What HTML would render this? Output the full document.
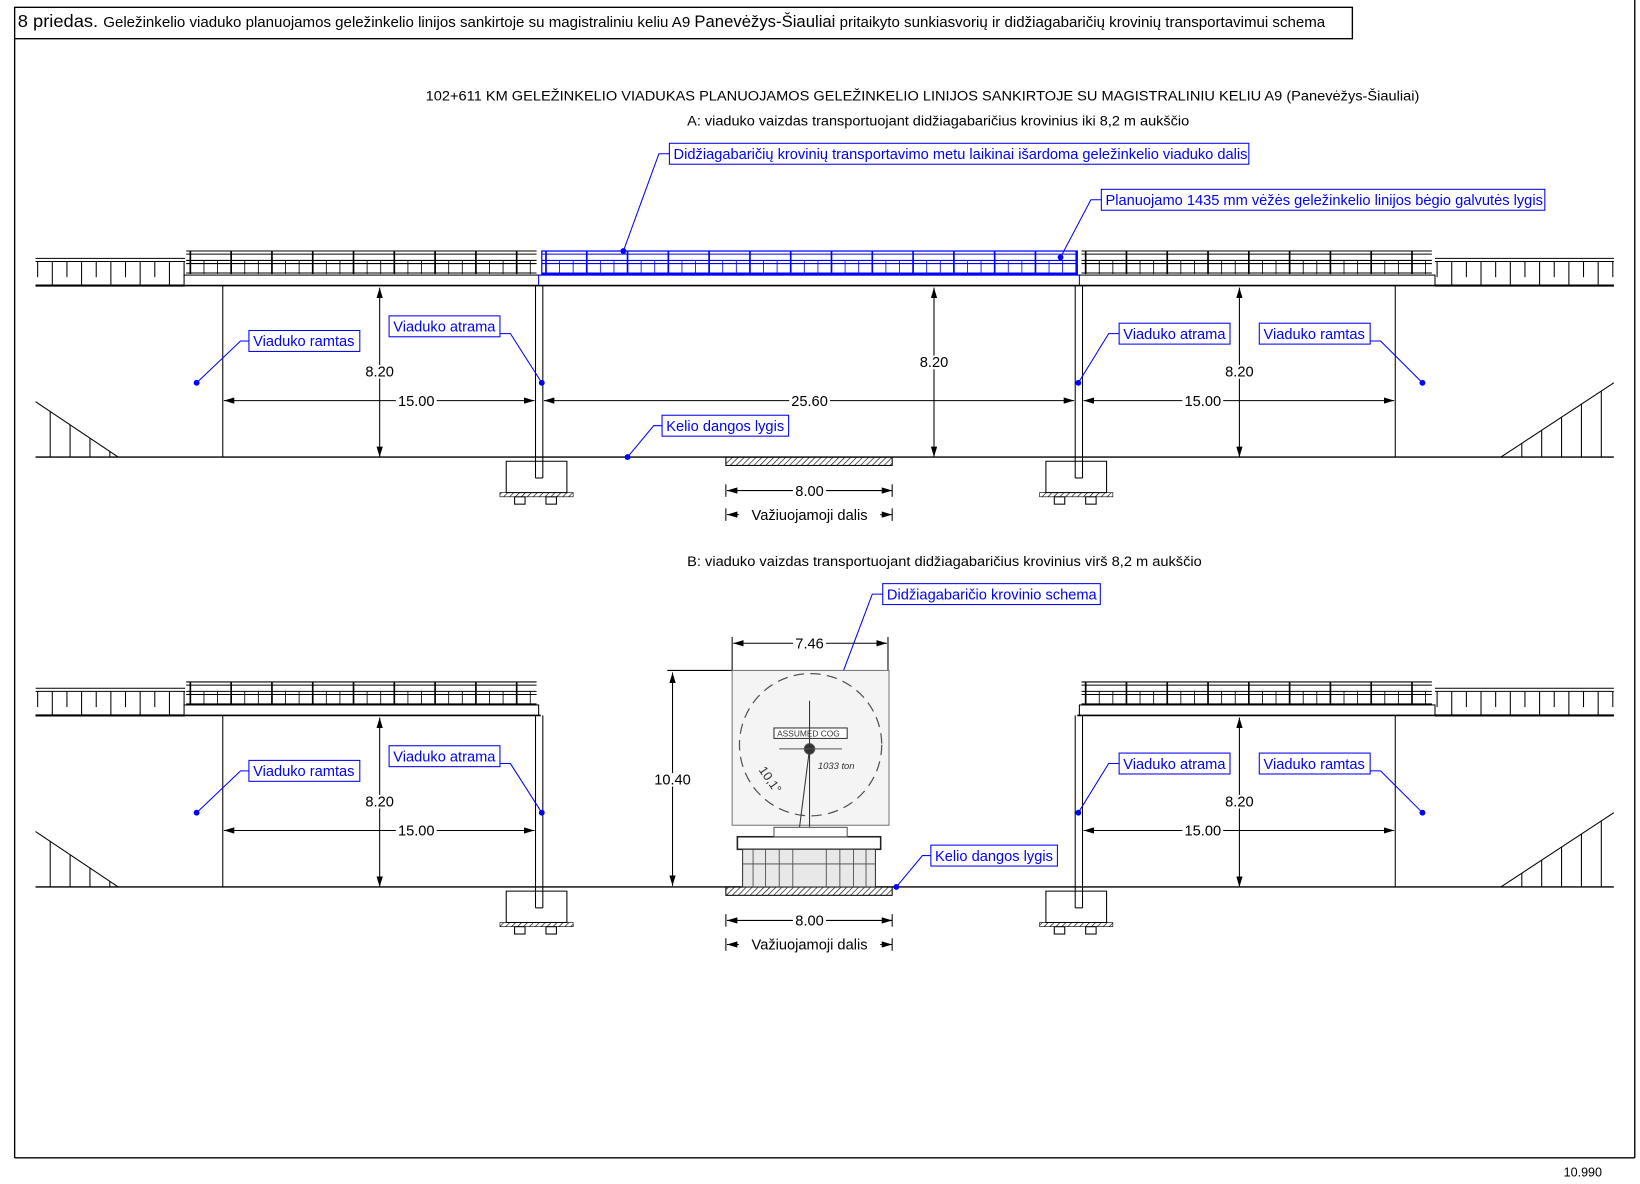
<!DOCTYPE html>
<html><head><meta charset="utf-8"><style>
html,body{margin:0;padding:0;background:#fff;}
svg{display:block;font-family:"Liberation Sans",sans-serif;}
.bl{fill:#00f;font-size:14px;}
.bx{fill:#fff;stroke:#00f;stroke-width:1;}
.ld{stroke:#00f;stroke-width:1;fill:none;}
.k{stroke:#000;fill:none;}
.t{font-size:13px;fill:#000;}
</style></head><body>
<svg id="s" width="1640" height="1184" viewBox="0 0 1568 1132" preserveAspectRatio="none" xmlns="http://www.w3.org/2000/svg">
<defs>
<pattern id="h" width="4" height="4" patternUnits="userSpaceOnUse" patternTransform="rotate(45)"><line x1="0" y1="0" x2="0" y2="4" stroke="#000" stroke-width="1.2"/></pattern>
<marker id="a" viewBox="0 0 10 6" refX="10" refY="3" markerWidth="10" markerHeight="6" orient="auto-start-reverse" markerUnits="userSpaceOnUse"><path d="M0,0L10,3L0,6z" fill="#000"/></marker>
</defs>
<rect x="0" y="0" width="1568" height="1132" fill="#fff"/>
<rect x="14" y="7" width="1279" height="30" fill="#fff" stroke="#000" stroke-width="1.3"/>
<line x1="14" y1="37" x2="14" y2="1107" stroke="#000" stroke-width="1.3"/>
<line x1="14" y1="1107" x2="1563" y2="1107" stroke="#000" stroke-width="1.3"/>
<line x1="1563" y1="0" x2="1563" y2="1107" stroke="#000" stroke-width="1.3"/>
<text x="17" y="26" font-size="17" fill="#000" textLength="1250" lengthAdjust="spacingAndGlyphs">8 priedas. <tspan font-size="14">Geležinkelio viaduko planuojamos geležinkelio linijos sankirtoje su magistraliniu keliu A9 </tspan><tspan font-size="15.5">Panevėžys-Šiauliai</tspan><tspan font-size="14"> pritaikyto sunkiasvorių ir didžiagabaričių krovinių transportavimui schema</tspan></text>
<text x="1495" y="1125" font-size="12" fill="#000">10.990</text>
<text x="407" y="96" class="t" font-size="14" textLength="950" lengthAdjust="spacingAndGlyphs">102+611 KM GELEŽINKELIO VIADUKAS PLANUOJAMOS GELEŽINKELIO LINIJOS SANKIRTOJE SU  MAGISTRALINIU KELIU A9 (Panevėžys-Šiauliai)</text>
<text x="657" y="120" class="t" font-size="14" textLength="480" lengthAdjust="spacingAndGlyphs">A: viaduko vaizdas transportuojant didžiagabaričius krovinius iki 8,2 m aukščio</text>
<text x="657" y="541" class="t" font-size="14" textLength="492" lengthAdjust="spacingAndGlyphs">B: viaduko vaizdas  transportuojant didžiagabaričius krovinius virš 8,2 m aukščio</text>
<g id="g"></g>
<g stroke="#555" fill="none">
<rect x="700" y="641" width="150" height="148" fill="#f4f4f4" stroke="#777"/>
<circle cx="775" cy="712" r="68" stroke-dasharray="10,6" stroke="#555" stroke-width="1.2"/>
<rect x="740" y="696" width="70" height="10" fill="#fff" stroke="#333"/>
<circle cx="774" cy="716" r="5" fill="#333"/>
<line x1="774" y1="670" x2="774" y2="800" stroke="#333"/>
<line x1="745" y1="716" x2="805" y2="716"/>
<line x1="774" y1="716" x2="762" y2="810" stroke="#333"/>
<rect x="705" y="800" width="137" height="12" fill="#fff" stroke="#222" stroke-width="1.5"/>
<rect x="740" y="791" width="70" height="9" fill="#fff"/>
<rect x="710" y="812" width="127" height="36" fill="#e8e8e8" stroke="#333"/>
<g stroke="#444" stroke-width="0.8">
<line x1="720" y1="812" x2="720" y2="848"/><line x1="732" y1="812" x2="732" y2="848"/><line x1="745" y1="812" x2="745" y2="848"/><line x1="758" y1="812" x2="758" y2="848"/><line x1="790" y1="812" x2="790" y2="848"/><line x1="803" y1="812" x2="803" y2="848"/><line x1="816" y1="812" x2="816" y2="848"/><line x1="828" y1="812" x2="828" y2="848"/>
<line x1="710" y1="826" x2="837" y2="826"/>
</g>
</g>
<text x="743" y="704" font-size="8" fill="#333">ASSUMED COG</text>
<text x="782" y="735" font-size="9" font-style="italic" fill="#333">1033 ton</text>
<text x="724" y="742" font-size="12" fill="#333" transform="rotate(55 730 740)">10,1°</text>
</svg>
<script>
var NS="http://www.w3.org/2000/svg",g=document.getElementById("g");
function el(t,a,p){var e=document.createElementNS(NS,t);for(var k in a)e.setAttribute(k,a[k]);(p||g).appendChild(e);return e;}
function L(x1,y1,x2,y2,w,c){el("line",{x1:x1,y1:y1,x2:x2,y2:y2,stroke:c||"#000","stroke-width":w||1});}
function rail(x1,x2,y,c){
 L(x1,y,x2,y,1,c);L(x1,y+3,x2,y+3,1,c);L(x1,y+9,x2,y+9,1,c);L(x1,y+12,x2,y+12,1,c);L(x1,y+21,x2,y+21,1,c);
 for(var x=x1+4;x<=x2;x+=39)L(x,y,x,y+22,1.6,c);
 for(var x=x1+4;x<=x2;x+=13)L(x,y+9,x,y+22,0.8,c);}
function approach(x1,x2,y){L(x1,y,x2,y,1);L(x1,y+3,x2,y+3,1);L(x1,y+26,x2,y+26,2);
 for(var x=x1+2;x<=x2;x+=14)L(x,y+3,x,y+(((x-x1)/14|0)%2?26:18),1);}
function dim(x1,y1,x2,y2){el("line",{x1:x1,y1:y1,x2:x2,y2:y2,stroke:"#000","stroke-width":1,"marker-start":"url(#a)","marker-end":"url(#a)"});}
function txt(x,y,s,anchor){var w=s.length*7.4;el("rect",{x:x-w/2-1,y:y-11,width:w+2,height:13,fill:"#fff"});
 var t=el("text",{x:x,y:y,"font-size":14,fill:"#000","text-anchor":anchor||"middle"});t.textContent=s;}
function pier(x,top,gy){L(x,top,x,gy+20,1);L(x+7,top,x+7,gy+20,1);L(x,gy+20,x+7,gy+20,1);
 el("path",{d:"M"+(x-28)+","+(gy+4)+" L"+(x+30)+","+(gy+4)+" L"+(x+30)+","+(gy+34)+" L"+(x-28)+","+(gy+34)+"Z",fill:"none",stroke:"#000"});
 el("rect",{x:x-34,y:gy+34,width:70,height:4,fill:"url(#h)",stroke:"#000","stroke-width":0.6});
 el("rect",{x:x-20,y:gy+38,width:10,height:7,fill:"#fff",stroke:"#000"});el("rect",{x:x+10,y:gy+38,width:10,height:7,fill:"#fff",stroke:"#000"});}
function slopeL(gy){L(34,gy-53,113,gy,1);for(var i=0;i<4;i++){var x=48+i*19,y=gy-53+(x-34)*53/79;L(x,y,x,gy,1);}}
function slopeR(gy){L(1435,gy,1543,gy-71,1);for(var i=0;i<5;i++){var x=1455+i*19,y=gy-(x-1435)*71/108;L(x,y,x,gy,1);}}
function label(x,y,w,s,lx,ly,dx,dy,ex){el("rect",{x:x,y:y,width:w,height:20,"class":"bx"});var t=el("text",{x:x+4,y:y+15,"class":"bl"});t.textContent=s;
 el("polyline",{points:lx+","+ly+" "+ex+","+ly+" "+dx+","+dy,"class":"ld"});el("circle",{cx:dx,cy:dy,r:2.8,fill:"#00f"});}
function section(o,full){
 var gy=437+o,dt=263+o,db=273+o;
 approach(34,177,dt-16);approach(1372,1543,dt-16);
 if(full){rail(178,513,240+o);rail(518,1030,240+o,"#00f");rail(1034,1369,240+o);
  el("rect",{x:176,y:dt,width:1196,height:10,fill:"#fff",stroke:"#000"});
  el("rect",{x:515,y:dt,width:517,height:10,fill:"none",stroke:"#00f"});
  el("rect",{x:518,y:240+o,width:512,height:22,fill:"none",stroke:"#00f","stroke-width":1.2});
 }else{rail(178,513,652,null);rail(1034,1369,652,null);
  el("rect",{x:176,y:dt,width:339,height:10,fill:"#fff",stroke:"#000"});
  el("rect",{x:1032,y:dt,width:340,height:10,fill:"#fff",stroke:"#000"});}
 L(34,db,1543,db,1.6);if(!full){el("rect",{x:517,y:db-2,width:513,height:5,fill:"#fff"});}
 L(34,gy,1543,gy,1.3);
 L(213,db,213,gy);L(1334,db,1334,gy);
 pier(512,db,gy);pier(1028,db,gy);
 slopeL(gy);slopeR(gy);
 dim(363,db+2,363,gy);dim(1185,db+2,1185,gy);
 dim(214,383+o,511,383+o);txt(398,388+o,"15.00");txt(363,360+o,"8.20");
 dim(1036,383+o,1333,383+o);txt(1150,388+o,"15.00");txt(1185,360+o,"8.20");
 if(full){dim(893,db+2,893,gy);txt(893,351,"8.20");dim(520,383,1027,383);txt(774,388,"25.60");}
 el("rect",{x:694,y:gy,width:159,height:8,fill:"url(#h)",stroke:"#000"});
 dim(695,469+o,853,469+o);L(694,463+o,694,475+o);L(853,463+o,853,475+o);txt(774,474+o,"8.00");
 dim(695,492+o,853,492+o);L(694,486+o,694,498+o);L(853,486+o,853,498+o);txt(774,497+o,"Važiuojamoji dalis");
}
section(0,true);section(411,false);
dim(701,615,848,615);L(700,609,700,641);L(849,609,849,641);txt(774,620,"7.46");
L(638,641,700,641);dim(643,643,643,847);txt(643,750,"10.40");
label(238,316,106,"Viaduko ramtas",238,326,188,366,230);
label(372,302,106,"Viaduko atrama",478,319,518,366,488);
label(1070,309,106,"Viaduko atrama",1070,319,1031,366,1060);
label(1204,309,106,"Viaduko ramtas",1310,326,1360,366,1320);
label(633,397,121,"Kelio dangos lygis",633,407,600,437,625);
label(640,137,554,"Didžiagabaričių krovinių transportavimo metu laikinai išardoma geležinkelio viaduko dalis",640,147,596,240,630);
label(1053,181,424,"Planuojamo 1435 mm vėžės geležinkelio linijos bėgio galvutės lygis",1053,191,1014,246,1043);
label(238,727,106,"Viaduko ramtas",238,737,188,777,230);
label(372,713,106,"Viaduko atrama",478,730,518,777,488);
label(1070,720,106,"Viaduko atrama",1070,730,1031,777,1060);
label(1204,720,106,"Viaduko ramtas",1310,737,1360,777,1320);
label(844,558,208,"Didžiagabaričio krovinio schema",844,568,799,661,834);
label(890,808,121,"Kelio dangos lygis",890,818,857,848,882);
</script>
</body></html>
